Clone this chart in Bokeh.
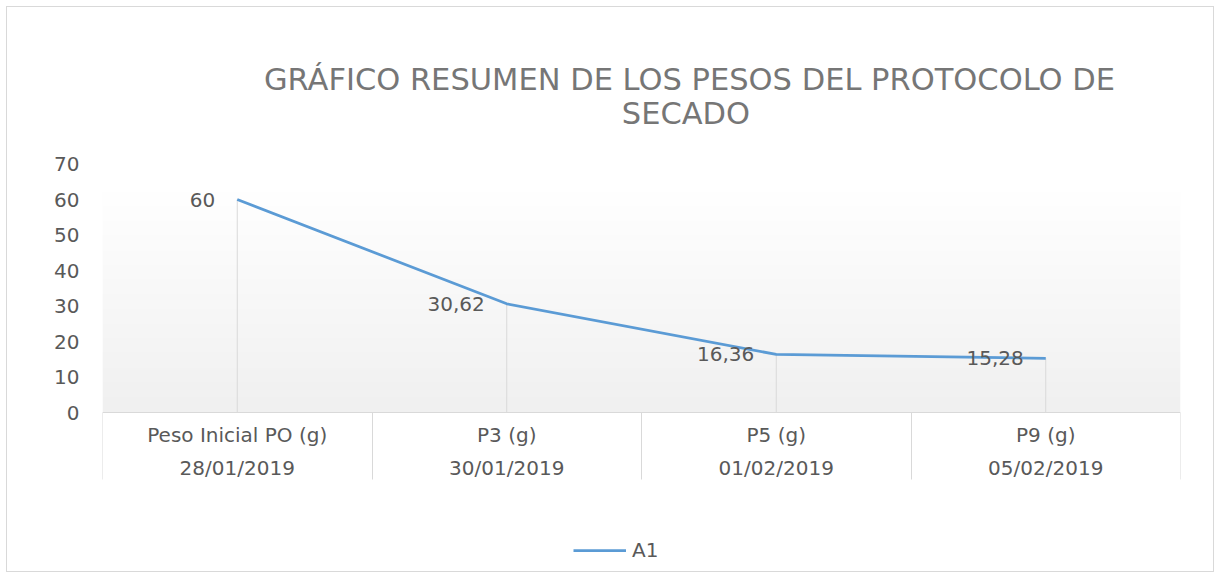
import numpy as np
from bokeh.plotting import figure
from bokeh.models import (ColumnDataSource, Range1d, FixedTicker, Label, Legend,
                          LegendItem, LinearAxis)
from bokeh.core.properties import value
from bokeh.embed import file_html
from bokeh.resources import INLINE

# ---- data ----
categories = ["Peso Inicial PO (g)", "P3 (g)", "P5 (g)", "P9 (g)"]
dates = ["28/01/2019", "30/01/2019", "01/02/2019", "05/02/2019"]
series_name = "A1"
values = [60, 30.62, 16.36, 15.28]
y_ticks = [0, 10, 20, 30, 40, 50, 60, 70]
title_lines = ["GRÁFICO RESUMEN DE LOS PESOS DEL PROTOCOLO DE", "SECADO"]

FONT = "DejaVu Sans"
TXT = "#595959"
GRID = "#d9d9d9"
BLUE = "#5b9bd5"

n = len(categories)
xs = [i + 0.5 for i in range(n)]
labels = [f"{v:g}".replace(".", ",") for v in values]
src = ColumnDataSource(dict(x=xs, y=values, lab=labels, zero=[0] * n))

# layout constants (pixels): value axis 0..70 spans 248.5 px, 0 sits 161 px above canvas bottom
W, H = 1208, 566
PPU = 248.5 / 70.0
Y_MAX = 70 + 156.5 / PPU
Y_MIN = -(H - 405) / PPU

p = figure(width=W, height=H, output_backend="svg", toolbar_location=None,
           x_range=Range1d(0, n), y_range=Range1d(Y_MIN, Y_MAX),
           min_border_left=95, min_border_right=35, min_border_top=0,
           min_border_bottom=0, x_axis_type=None, y_axis_type=None)
p.outline_line_color = None
p.background_fill_color = "white"
p.border_fill_color = "white"
p.styles = {"border": "1px solid #d9d9d9", "margin-left": "6px", "margin-top": "6px"}

# plot-area gradient (decoration)
grad_top = 62.3
rows = 200
g = np.linspace(240, 255, rows).astype(np.uint8)
img = np.zeros((rows, 1), dtype=np.uint32)
view = img.view(dtype=np.uint8).reshape((rows, 1, 4))
view[:, 0, 0] = g
view[:, 0, 1] = g
view[:, 0, 2] = g
view[:, 0, 3] = 255
p.image_rgba(image=[img], x=0, y=0, dw=n, dh=grad_top)

# drop lines
p.segment(x0="x", y0="zero", x1="x", y1="y", source=src, line_color=GRID, line_width=1)

# series line
r = p.line("x", "y", source=src, line_color=BLUE, line_width=2.75)

# data labels
p.text(x="x", y="y", text="lab", source=src, x_offset=-22, text_align="right",
       text_baseline="middle", text_font=value(FONT), text_font_size="20px",
       text_color=TXT)

# y axis
yaxis = LinearAxis(ticker=FixedTicker(ticks=y_ticks), axis_line_color=None,
                   major_tick_line_color=None, minor_tick_line_color=None,
                   major_tick_in=0, major_tick_out=0, minor_tick_in=0, minor_tick_out=0,
                   major_label_standoff=23, major_label_text_font=FONT,
                   major_label_text_font_size="20px", major_label_text_color=TXT)
p.add_layout(yaxis, "left")

# x axis with two-level labels and boxed separators, pinned at value 0
overrides = {x: f"{c}\n{d}" for x, c, d in zip(xs, categories, dates)}
xaxis = LinearAxis(ticker=FixedTicker(ticks=xs, minor_ticks=list(range(n + 1))),
                   fixed_location=0,
                   axis_line_color=GRID, axis_line_width=1,
                   major_tick_in=0, major_tick_out=0, major_tick_line_color=None,
                   minor_tick_in=0, minor_tick_out=67, minor_tick_line_color=GRID,
                   minor_tick_line_width=1,
                   major_label_overrides=overrides, major_label_standoff=-57,
                   major_label_text_line_height=1.38, major_label_text_font=FONT,
                   major_label_text_font_size="20px", major_label_text_color=TXT)
p.add_layout(xaxis, "below")

# title
p.add_layout(Label(x=2.178, y=93.8, text=title_lines[0], text_align="center",
                   text_baseline="middle", text_font=FONT, text_font_size="30.5px",
                   text_color="#767676"))
p.add_layout(Label(x=2.165, y=84.3, text=title_lines[1], text_align="center",
                   text_baseline="middle", text_font=FONT, text_font_size="30.5px",
                   text_color="#767676"))

# legend
legend = Legend(items=[LegendItem(label=series_name, renderers=[r])],
                location=(471, 11), orientation="horizontal",
                glyph_width=53, glyph_height=20, label_height=20, label_standoff=6,
                padding=0, margin=0, border_line_color=None, background_fill_alpha=0,
                label_text_font=FONT, label_text_font_size="20px",
                label_text_color=TXT)
p.add_layout(legend)

open("out.html", "w").write(file_html(p, INLINE))
